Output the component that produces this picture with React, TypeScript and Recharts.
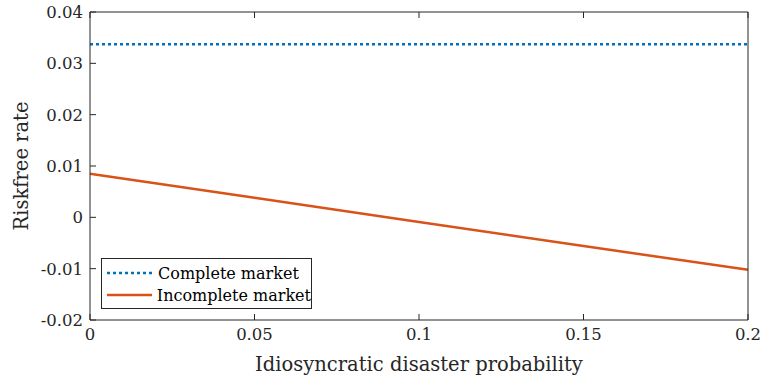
import { LineChart, Line, XAxis, YAxis, Label } from "recharts";

const probability = [0, 0.05, 0.1, 0.15, 0.2];
const completeMarket = [0.0337, 0.0337, 0.0337, 0.0337, 0.0337];
const incompleteMarket = [0.0085, 0.0038, -0.0009, -0.0056, -0.0102];
const xTicks = [0, 0.05, 0.1, 0.15, 0.2];
const yTicks = [-0.02, -0.01, 0, 0.01, 0.02, 0.03, 0.04];

const data = probability.map((p, i) => ({
  p,
  complete: completeMarket[i],
  incomplete: incompleteMarket[i],
}));

const FONT = "'DejaVu Serif', serif";
const AXIS = "#262626";
const BLUE = "#0072BD";
const ORANGE = "#D95319";

const fmt = (v: number) => (v === 0 ? "0" : String(v));

const series = [
  { key: "complete", label: "Complete market", color: BLUE, dash: "3 3" },
  { key: "incomplete", label: "Incomplete market", color: ORANGE, dash: undefined },
];

function LegendBox() {
  return (
    <div
      style={{
        position: "absolute",
        left: 101,
        top: 258,
        width: 211,
        height: 51,
        boxSizing: "border-box",
        border: `1px solid ${AXIS}`,
        background: "#fff",
        padding: "3px 0 0 5px",
        fontFamily: FONT,
        fontSize: 16,
        color: "#000",
      }}
    >
      {series.map((r) => (
        <div key={r.key} style={{ display: "flex", alignItems: "center", height: 22 }}>
          <svg width={46} height={10} style={{ marginRight: 5 }}>
            <line x1={0} y1={5} x2={46} y2={5} stroke={r.color} strokeWidth={2.5} strokeDasharray={r.dash} />
          </svg>
          <span style={{ whiteSpace: "nowrap" }}>{r.label}</span>
        </div>
      ))}
    </div>
  );
}

export default function App() {
  return (
    <div style={{ position: "absolute", left: 0, top: 0, width: 761, height: 379, background: "#fff" }}>
      <LineChart
        width={761}
        height={379}
        data={data}
        margin={{ top: 11, right: 12, left: 0, bottom: 0 }}
        style={{ fontFamily: FONT }}
      >
        <XAxis
          xAxisId="b"
          dataKey="p"
          type="number"
          domain={[0, 0.2]}
          ticks={xTicks}
          tickFormatter={fmt}
          tickSize={-6}
          tickMargin={14}
          height={59}
          stroke={AXIS}
          tick={{ fill: "#262626", fontSize: 16.5, fontFamily: FONT }}
        >
          <Label
            value="Idiosyncratic disaster probability"
            position="insideBottom"
            offset={8}
            style={{ fontSize: 19.5, fontFamily: FONT, fill: "#262626" }}
          />
        </XAxis>
        <XAxis
          xAxisId="t"
          dataKey="p"
          type="number"
          orientation="top"
          domain={[0, 0.2]}
          ticks={xTicks}
          tickFormatter={() => ""}
          tickSize={-6}
          height={1}
          stroke={AXIS}
        />
        <YAxis
          yAxisId="l"
          type="number"
          domain={[-0.02, 0.04]}
          ticks={yTicks}
          tickFormatter={fmt}
          tickSize={-6}
          tickMargin={13}
          width={90}
          stroke={AXIS}
          tick={{ fill: "#262626", fontSize: 16.5, fontFamily: FONT }}
        >
          <Label
            value="Riskfree rate"
            angle={-90}
            position="insideLeft"
            offset={21}
            style={{ fontSize: 19.5, fontFamily: FONT, fill: "#262626", textAnchor: "middle" }}
          />
        </YAxis>
        <YAxis
          yAxisId="r"
          type="number"
          orientation="right"
          domain={[-0.02, 0.04]}
          ticks={yTicks}
          tickFormatter={() => ""}
          tickSize={-6}
          width={1}
          stroke={AXIS}
        />
        {series.map((s) => (
          <Line
            key={s.key}
            xAxisId="b"
            yAxisId="l"
            dataKey={s.key}
            stroke={s.color}
            strokeWidth={2.5}
            strokeDasharray={s.dash}
            dot={false}
            isAnimationActive={false}
          />
        ))}
      </LineChart>
      <LegendBox />
    </div>
  );
}
